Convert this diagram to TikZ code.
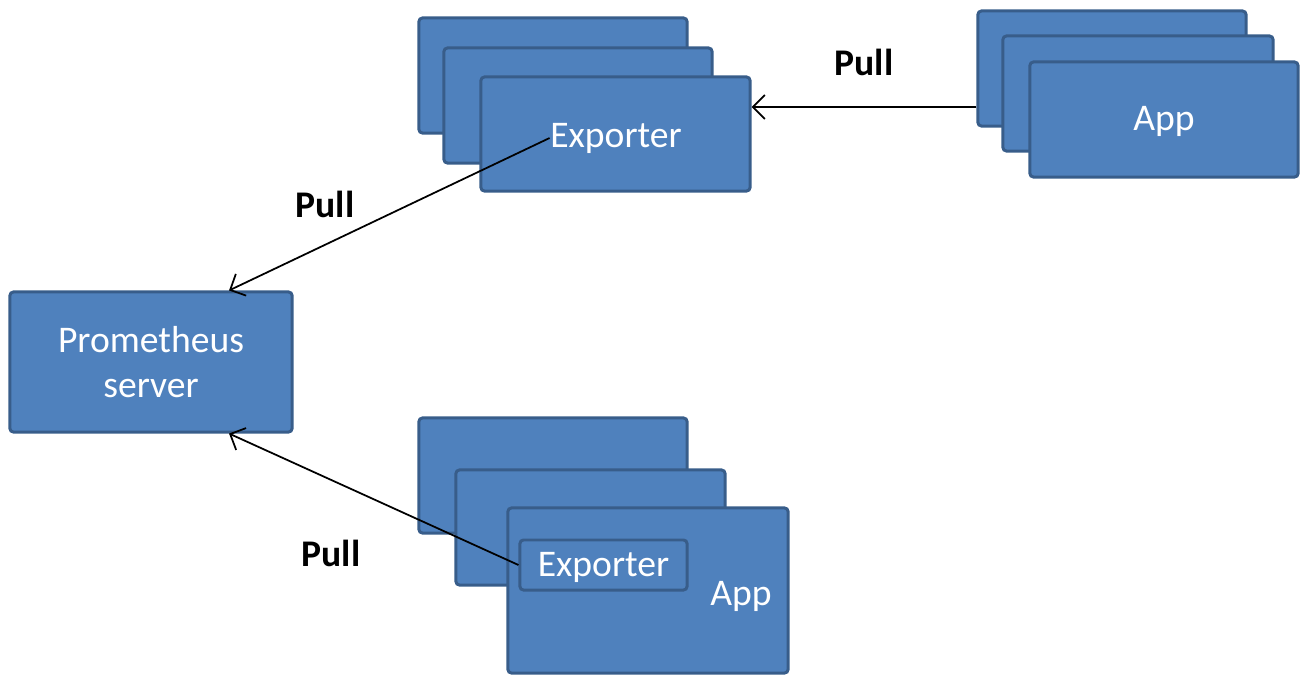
\documentclass[tikz,border=0pt]{standalone}
\usepackage{fontspec}
\setmainfont{Carlito}
\usepackage{xcolor}
\usetikzlibrary{positioning,arrows.meta}
\definecolor{boxfill}{HTML}{4F81BD}
\definecolor{boxline}{HTML}{385D8A}

\begin{document}
\begin{tikzpicture}[
    x=0.01cm, y=-0.01cm,
    >={Straight Barb[length=1.2mm, width=2.4mm]},
    box/.style={
        rectangle, draw=boxline, fill=boxfill,
        line width=0.85pt, rounded corners=1pt,
        minimum width=2.68cm, minimum height=1.15cm,
        inner sep=0pt, text=white, align=center,
        font=\fontsize{10.7}{12.8}\selectfont
    },
    low/.style={text height=3.2mm, text depth=0.95mm},
    lbl/.style={text=white, inner sep=0pt, font=\fontsize{10.7}{12.8}\selectfont},
    pull/.style={font=\fontsize{10.7}{12.8}\selectfont\bfseries, text=black},
    arr/.style={->, line width=0.5pt, black},
]
\useasboundingbox (0,0) rectangle (1308,675);

% ── Top: exporter stack ──
\node[box] (expA) at (553,75.5) {};
\node[box] (expB) at (578,105.5) {};
\node[box, minimum width=2.69cm, minimum height=1.14cm] (expC) at (615.5,134) {};
\node[lbl] (explabel) at (616,138) {Exporter};

% ── Top right: app stack ──
\node[box] (appA) at (1112,68.5) {};
\node[box, minimum width=2.70cm] (appB) at (1138,93.5) {};
\node[box, low] (appC) at (1164,119.5) {App};

% ── Left: Prometheus server ──
\node[box, minimum width=2.82cm, minimum height=1.40cm] (prom) at (151,362)
    {Prometheus\\server};

% ── Bottom: app stack with built-in exporter ──
\node[box] (binA) at (553,475.5) {};
\node[box, minimum width=2.69cm] (binB) at (590.5,527.5) {};
\node[box, minimum width=2.80cm, minimum height=1.65cm] (binC) at (648,590.5) {};
\node[box, low, minimum width=1.67cm, minimum height=0.50cm] (binexp) at (603.5,565)
    {Exporter};
\node[lbl] (binapp) at (741,596) {App};

% ── Pull arrows ──
\draw[arr] ([yshift=-0.385cm]appA.west) coordinate (apin) -- (expC.east |- apin);
\node[pull] (pull1) at (864,62) {Pull};

\draw[arr] (explabel.west) -- ([xshift=0.78cm]prom.north);
\node[pull] (pull2) at (325,204) {Pull};

\draw[arr] (binexp.west) -- ([xshift=0.78cm]prom.south);
\node[pull] (pull3) at (331,553) {Pull};

\end{tikzpicture}
\end{document}
